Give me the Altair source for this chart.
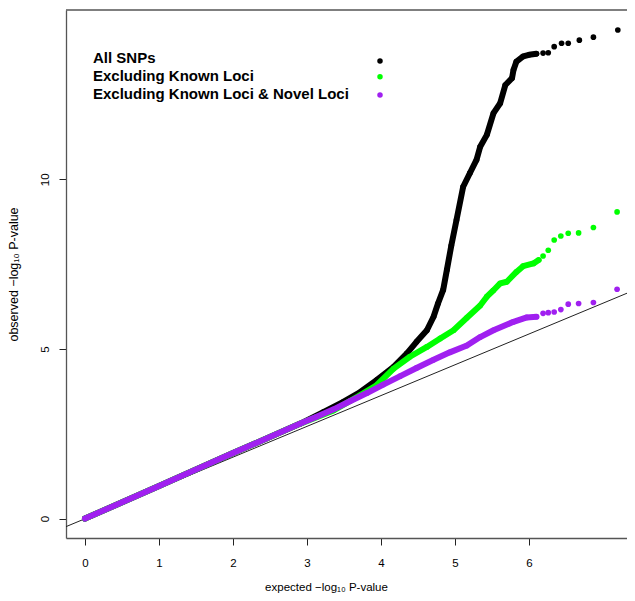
import altair as alt
import pandas as pd

# ---- data ----
black_x = [0, 1.0, 2.0, 2.91, 3.22, 3.49, 3.72, 3.94, 4.17, 4.35, 4.48, 4.62, 4.71, 4.77, 4.84, 4.89,
           4.95, 5.02, 5.11, 5.20, 5.29, 5.34, 5.43, 5.52, 5.61, 5.68, 5.77, 5.79, 5.83, 5.92, 6.00, 6.10]
black_y = [0, 0.96, 1.93, 2.80, 3.14, 3.44, 3.73, 4.08, 4.47, 4.87, 5.21, 5.55, 5.95, 6.34, 6.74, 7.33,
           8.05, 8.80, 9.78, 10.18, 10.57, 10.96, 11.31, 11.95, 12.24, 12.78, 12.98, 13.22, 13.47, 13.62, 13.67, 13.70]
black_tail_x = [6.19, 6.26, 6.34, 6.44, 6.53, 6.68, 6.87, 7.20]
black_tail_y = [13.72, 13.73, 13.91, 14.01, 14.01, 14.10, 14.19, 14.40]

green_x = [0, 1, 2, 2.91, 3.36, 3.72, 3.94, 4.17, 4.39, 4.62, 4.80, 4.98, 5.16, 5.34, 5.43, 5.52,
           5.61, 5.70, 5.83, 5.92, 6.06, 6.13]
green_y = [0, 0.96, 1.93, 2.80, 3.19, 3.64, 3.93, 4.42, 4.77, 5.06, 5.31, 5.55, 5.92, 6.28, 6.54, 6.73,
           6.93, 6.98, 7.27, 7.44, 7.52, 7.62]
green_tail_x = [6.19, 6.26, 6.34, 6.43, 6.53, 6.67, 6.87, 7.19]
green_tail_y = [7.74, 7.91, 8.21, 8.33, 8.41, 8.42, 8.58, 9.04]

purple_x = [0, 1, 2, 2.91, 3.13, 3.36, 3.58, 3.81, 4.03, 4.26, 4.48, 4.71, 4.93, 5.16, 5.34, 5.52,
            5.79, 5.97, 6.10]
purple_y = [0, 0.96, 1.93, 2.80, 3.00, 3.22, 3.46, 3.70, 3.95, 4.20, 4.44, 4.68, 4.90, 5.10, 5.35, 5.55,
            5.80, 5.93, 5.95]
purple_tail_x = [6.19, 6.26, 6.34, 6.43, 6.53, 6.67, 6.87, 7.19]
purple_tail_y = [6.05, 6.07, 6.09, 6.16, 6.32, 6.34, 6.37, 6.76]

ref_x = [-0.26, 7.42]
ref_y = [-0.24, 6.73]

legend_labels = ["All SNPs", "Excluding Known Loci", "Excluding Known Loci & Novel Loci"]
colors = ["#000000", "#00FF00", "#A020F0"]

x_ticks = [0, 1, 2, 3, 4, 5, 6]
y_ticks = [0, 5, 10]

FONT = "Liberation Sans"
W, H = 561, 528

xs = alt.Scale(domain=[-0.257, 7.324], nice=False, zero=False)
ys = alt.Scale(domain=[-0.572, 14.99], nice=False, zero=False)

xaxis = alt.Axis(values=x_ticks, format="d", grid=False, tickSize=7, tickColor="#222",
                 domainColor="#555", domainWidth=1.3, labelFont=FONT, labelFontSize=11.5,
                 labelColor="#000", labelPadding=12, labelFlush=False,
                 title="expected \u2212log\u2081\u2080 P-value", titleFont=FONT, titleFontSize=11.5,
                 titleFontWeight="normal", titleColor="#000", titleX=260, titleY=52,
                 titleAlign="center", titleBaseline="alphabetic")
yaxis = alt.Axis(values=y_ticks, format="d", grid=False, tickSize=7, tickColor="#222",
                 domainColor="#555", domainWidth=1.3, labelFont=FONT, labelFontSize=11.5,
                 labelColor="#000", labelAngle=270, labelAlign="center", labelBaseline="alphabetic",
                 labelPadding=10.5, labelFlush=False,
                 title="observed \u2212log\u2081\u2080 P-value", titleFont=FONT, titleFontSize=12.5,
                 titleFontWeight="normal", titleColor="#000", titleAngle=270, titleX=-48.5, titleY=264,
                 titleAlign="center", titleBaseline="alphabetic")

def df(x, y):
    return pd.DataFrame({"x": x, "y": y})

ref = alt.Chart(df(ref_x, ref_y)).mark_line(color="#222", strokeWidth=1, clip=True).encode(
    x=alt.X("x:Q", scale=xs, axis=xaxis), y=alt.Y("y:Q", scale=ys, axis=yaxis))

layers = [ref]
for (dx, dy, tx, ty), c in zip([(black_x, black_y, black_tail_x, black_tail_y),
                                 (green_x, green_y, green_tail_x, green_tail_y),
                                 (purple_x, purple_y, purple_tail_x, purple_tail_y)], colors):
    band = alt.Chart(df(dx, dy)).mark_line(color=c, strokeWidth=6, strokeCap="round",
                                           strokeJoin="round", clip=True).encode(
        x=alt.X("x:Q", scale=xs), y=alt.Y("y:Q", scale=ys))
    pts = alt.Chart(df(dx + tx, dy + ty)).mark_circle(color=c, size=32, opacity=1, clip=True).encode(
        x=alt.X("x:Q", scale=xs), y=alt.Y("y:Q", scale=ys))
    layers += [band, pts]

# top border of the box
top = alt.Chart(pd.DataFrame({"a": [0]})).mark_rule(color="#555", strokeWidth=1.3).encode(
    x=alt.value(0), x2=alt.value(W + 2), y=alt.value(0))
layers.append(top)

# legend (symbols on the right, as in the reference)
leg_text_y = [47.8, 65.8, 83.7]
leg_dot_y = [51, 66.7, 85]
for lab, c, ty, dy in zip(legend_labels, colors, leg_text_y, leg_dot_y):
    t = alt.Chart(pd.DataFrame({"t": [lab]})).mark_text(
        font=FONT, fontSize=15, fontWeight="bold", align="left", baseline="middle", color="#000").encode(
        text="t:N", x=alt.value(27), y=alt.value(ty))
    d = alt.Chart(pd.DataFrame({"a": [0]})).mark_circle(color=c, size=30, opacity=1).encode(
        x=alt.value(314), y=alt.value(dy))
    layers += [t, d]

chart = alt.layer(*layers).properties(
    width=W, height=H,
    autosize=alt.AutoSizeParams(type="none"),
    padding={"left": 58, "top": 2, "right": 0, "bottom": 55},
).configure_view(stroke=None)

chart.save("out.html", embed_options={"renderer": "svg", "actions": False})
